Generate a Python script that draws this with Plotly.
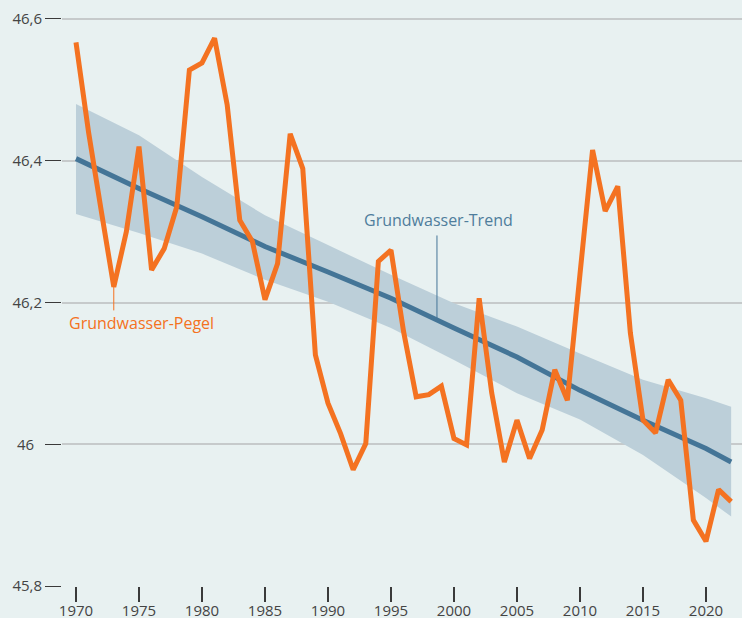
import numpy as np
import plotly.graph_objects as go

years = list(range(1970, 2023))
pegel = [46.567, 46.44, 46.33, 46.222, 46.30, 46.42, 46.246, 46.276, 46.335, 46.528,
         46.538, 46.573, 46.479, 46.316, 46.286, 46.204, 46.255, 46.438, 46.389, 46.126,
         46.058, 46.015, 45.964, 46.001, 46.258, 46.274, 46.159, 46.067, 46.070, 46.082,
         46.008, 45.999, 46.206, 46.072, 45.975, 46.034, 45.980, 46.020, 46.105, 46.062,
         46.24, 46.415, 46.329, 46.364, 46.157, 46.034, 46.016, 46.091, 46.062, 45.893,
         45.863, 45.936, 45.919]

trend_years = [1970, 1975, 1980, 1985, 1990, 1995, 2000, 2005, 2010, 2015, 2020, 2022]
trend = [46.403, 46.361, 46.321, 46.279, 46.243, 46.206, 46.164, 46.123, 46.076, 46.034, 45.994, 45.975]
upper = [46.480, 46.436, 46.377, 46.323, 46.281, 46.239, 46.199, 46.166, 46.128, 46.091, 46.065, 46.053]
lower = [46.325, 46.298, 46.269, 46.232, 46.201, 46.164, 46.119, 46.072, 46.035, 45.985, 45.924, 45.898]

xtick_vals = [1970, 1975, 1980, 1985, 1990, 1995, 2000, 2005, 2010, 2015, 2020]
ytick_vals = [45.8, 46.0, 46.2, 46.4, 46.6]
ytick_text = ["45,8", "46\u00a0\u00a0", "46,2", "46,4", "46,6"]

BG = "#e8f1f1"
ORANGE = "#f47221"
BLUE = "#447597"
BAND = "#bccfd9"
GRID = "#c6cacb"
TXT = "#444444"
FONT = "Open Sans"

fig = go.Figure()
fig.add_trace(go.Scatter(x=trend_years, y=lower, mode="lines", line=dict(width=0, color=BAND),
                         hoverinfo="skip", showlegend=False))
fig.add_trace(go.Scatter(x=trend_years, y=upper, mode="lines", line=dict(width=0, color=BAND),
                         fill="tonexty", fillcolor=BAND, hoverinfo="skip", showlegend=False))
fig.add_trace(go.Scatter(x=trend_years, y=trend, mode="lines", line=dict(width=5, color=BLUE),
                         showlegend=False, name="Grundwasser-Trend"))
fig.add_trace(go.Scatter(x=years, y=pegel, mode="lines", line=dict(width=5, color=ORANGE),
                         showlegend=False, name="Grundwasser-Pegel"))

# annotation anchors derived from data
trend_x = 1998.65
trend_y = float(np.interp(trend_x, trend_years, trend))
peg_x = 1973
peg_y = pegel[years.index(peg_x)]

ann = [
    dict(x=trend_x, y=trend_y, xref="x", yref="y", text="", showarrow=True, arrowhead=0,
         arrowwidth=1, arrowcolor=BLUE, ax=0, ay=-86, standoff=0),
    dict(x=trend_x, y=trend_y, xref="x", yref="y", text="Grundwasser-Trend", showarrow=False,
         yshift=100, xshift=2, font=dict(family=FONT, size=16, color="#4f7d9c")),
    dict(x=peg_x, y=peg_y, xref="x", yref="y", text="", showarrow=True, arrowhead=0,
         arrowwidth=1, arrowcolor=ORANGE, ax=0, ay=25, standoff=0),
    dict(x=peg_x, y=peg_y, xref="x", yref="y", text="Grundwasser-Pegel", showarrow=False,
         yshift=-36, xshift=28, font=dict(family=FONT, size=16, color=ORANGE)),
]

fig.update_layout(
    width=742, height=618,
    margin=dict(l=62, r=0, t=0, b=32),
    paper_bgcolor=BG, plot_bgcolor=BG,
    font=dict(family=FONT, size=15, color=TXT),
    annotations=ann,
    showlegend=False,
)
fig.update_xaxes(range=[1968.89, 2022.86], tickvals=xtick_vals, ticks="outside", ticklen=15,
                 tickwidth=1.5, tickcolor="#3a3a3a", showgrid=False, zeroline=False, showline=False,
                 automargin=False, ticklabelstandoff=-4,
                 tickfont=dict(family=FONT, size=15, color=TXT))
fig.update_yaxes(range=[45.8, 46.6268], tickvals=ytick_vals, ticktext=ytick_text, ticks="outside",
                 ticklen=16, tickwidth=1.2, tickcolor="#3a3a3a", showgrid=True, gridcolor=GRID,
                 gridwidth=1.5, zeroline=False, showline=False,
                 automargin=False, tickfont=dict(family=FONT, size=15, color=TXT))

fig.write_html("out.html", config={"displayModeBar": False},
               post_script="document.body.style.margin='0';document.body.style.overflow='hidden';")
